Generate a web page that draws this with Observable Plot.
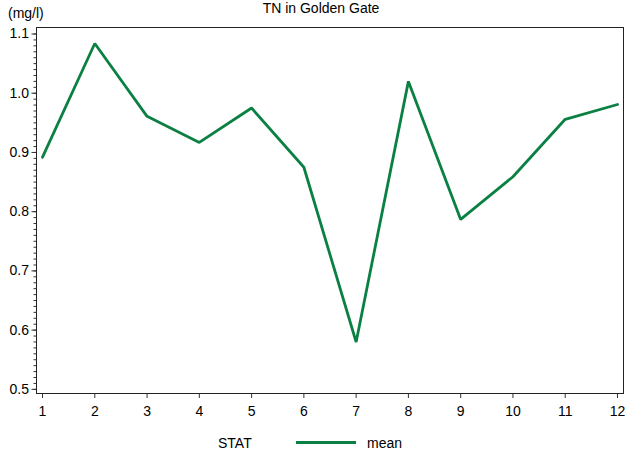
<!DOCTYPE html>
<html>
<head>
<meta charset="utf-8">
<script src="https://cdn.jsdelivr.net/npm/d3@7"></script>
<script src="https://cdn.jsdelivr.net/npm/@observablehq/plot@0.6"></script>
<style>
  html, body { margin: 0; padding: 0; background: #fff; }
  #wrap { position: relative; width: 625px; height: 454px; overflow: hidden;
          font-family: Arial, "Liberation Sans", sans-serif; color: #000; }
  #chart { position: absolute; left: 0; top: 0; }
  .lbl { position: absolute; font-size: 14px; line-height: 14px; white-space: nowrap; }
  #legline { position: absolute; height: 3px; background: #0b8043; }
</style>
</head>
<body>
<div id="wrap">
  <div id="chart"></div>
  <div class="lbl" id="title" style="left:0; width:642px; text-align:center; top:1px;">TN in Golden Gate</div>
  <div class="lbl" id="ylabel" style="left:8px; top:6px;">(mg/l)</div>
  <div class="lbl" id="legtitle" style="left:218px; top:436px;">STAT</div>
  <div id="legline" style="left:296px; top:441px; width:60px;"></div>
  <div class="lbl" id="legname" style="left:367px; top:436px;">mean</div>
</div>
<script>
const months = [1, 2, 3, 4, 5, 6, 7, 8, 9, 10, 11, 12];
const tnMean = [0.892, 1.084, 0.961, 0.917, 0.975, 0.875, 0.580, 1.020, 0.787, 0.859, 0.956, 0.981];
const yTicks = [0.5, 0.6, 0.7, 0.8, 0.9, 1.0, 1.1];
const yMinorTicks = d3.range(50, 111).map(d => d / 100);

const data = months.map((m, i) => ({month: m, mean: tnMean[i]}));

const chart = Plot.plot({
  width: 625,
  height: 425,
  marginLeft: 36,
  marginRight: 2,
  marginTop: 27,
  marginBottom: 32,
  style: {fontFamily: "Arial, 'Liberation Sans', sans-serif", fontSize: "14px", color: "#000", background: "transparent", overflow: "visible"},
  x: {domain: [0.885, 12.115], axis: null, label: null},
  y: {domain: [0.493, 1.111], axis: null, label: null},
  marks: [
    Plot.axisY(yMinorTicks, {tickSize: 2.5, text: null, stroke: "#333", label: null}),
    Plot.axisY(yTicks, {tickSize: 4.5, tickPadding: 3, tickFormat: d => d.toFixed(1), stroke: "#333", fontSize: 14, label: null}),
    Plot.axisX(months, {tickSize: 5, tickPadding: 8, stroke: "#333", fontSize: 14, label: null}),
    Plot.frame({stroke: "#222"}),
    Plot.line(data, {x: "month", y: "mean", stroke: "#0b8043", strokeWidth: 2.8, strokeLinejoin: "miter"})
  ]
});
document.getElementById("chart").appendChild(chart);
</script>
</body>
</html>
